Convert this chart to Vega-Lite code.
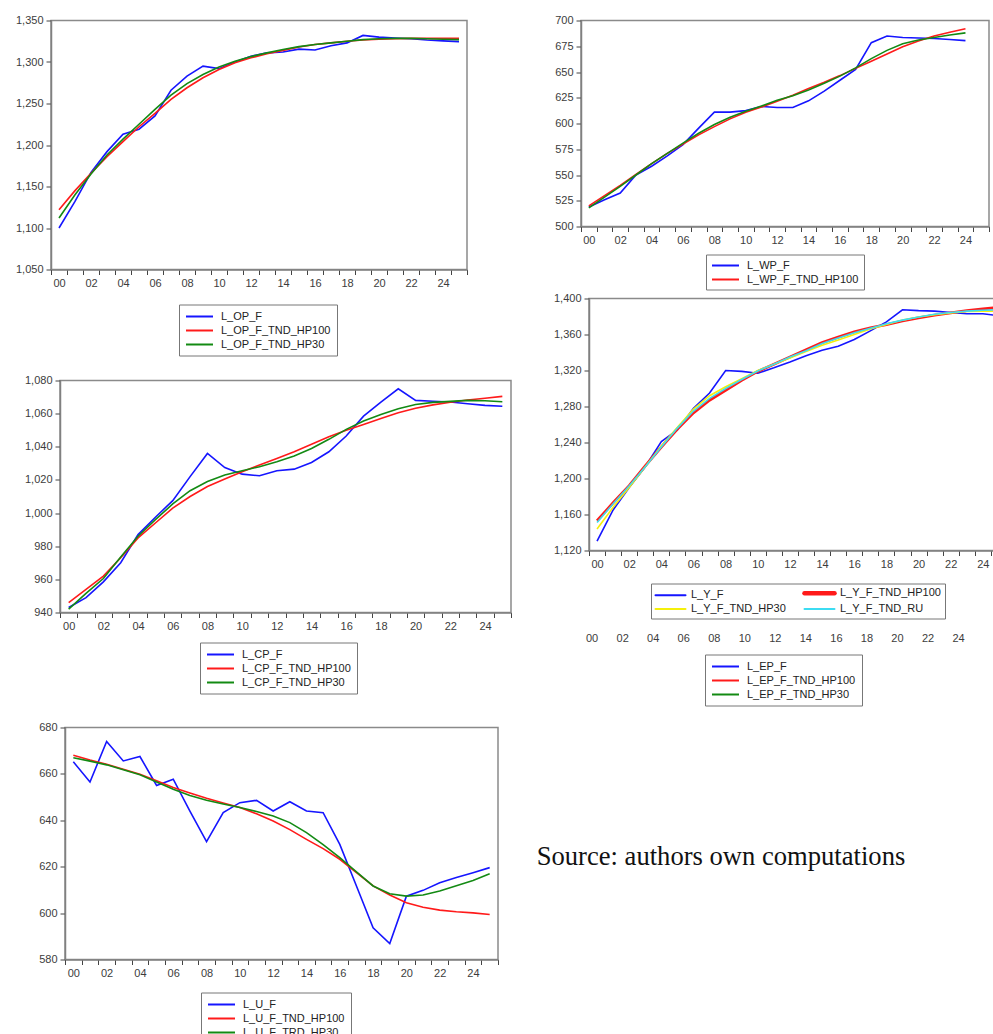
{
"$schema": "https://vega.github.io/schema/vega-lite/v6.json",
"padding": {"left": 10, "top": 13.5, "right": 0, "bottom": 0},
"background": "white",
"config": {
 "view": {"stroke": null},
 "font": "Liberation Sans",
 "axis": {"labelFont": "Liberation Sans", "labelFontSize": 11, "labelColor": "#3c3c3c", "tickColor": "#444444", "tickSize": 5, "domainColor": "#808080", "domainWidth": 1.5, "grid": false, "labelFlush": false, "labelOverlap": false, "labelBound": false, "labelPadding": 3, "maxExtent": 400},
 "legend": {"orient": "none", "symbolType": "M-1,0H4.4", "symbolSize": 100, "symbolStrokeWidth": 2, "labelOffset": 24, "padding": 6, "rowPadding": 3, "strokeColor": "#777777", "fillColor": "white", "labelFont": "Liberation Sans", "labelFontSize": 11, "labelColor": "#222222"}
},
"datasets": {
 "op": [
  {"series":"L_OP_F","year":0,"value":1100},{"series":"L_OP_F","year":1,"value":1132},{"series":"L_OP_F","year":2,"value":1167},{"series":"L_OP_F","year":3,"value":1192},{"series":"L_OP_F","year":4,"value":1213},{"series":"L_OP_F","year":5,"value":1219},{"series":"L_OP_F","year":6,"value":1235},{"series":"L_OP_F","year":7,"value":1266},{"series":"L_OP_F","year":8,"value":1283},{"series":"L_OP_F","year":9,"value":1295},{"series":"L_OP_F","year":10,"value":1292},{"series":"L_OP_F","year":11,"value":1300},{"series":"L_OP_F","year":12,"value":1307},{"series":"L_OP_F","year":13,"value":1311},{"series":"L_OP_F","year":14,"value":1312},{"series":"L_OP_F","year":15,"value":1315.5},{"series":"L_OP_F","year":16,"value":1314.5},{"series":"L_OP_F","year":17,"value":1319.5},{"series":"L_OP_F","year":18,"value":1323},{"series":"L_OP_F","year":19,"value":1332},{"series":"L_OP_F","year":20,"value":1330},{"series":"L_OP_F","year":21,"value":1329},{"series":"L_OP_F","year":22,"value":1328},{"series":"L_OP_F","year":23,"value":1326.5},{"series":"L_OP_F","year":24,"value":1325.5},{"series":"L_OP_F","year":25,"value":1324.5},
  {"series":"L_OP_F_TND_HP100","year":0,"value":1122},{"series":"L_OP_F_TND_HP100","year":1,"value":1145},{"series":"L_OP_F_TND_HP100","year":2,"value":1166},{"series":"L_OP_F_TND_HP100","year":3,"value":1186},{"series":"L_OP_F_TND_HP100","year":4,"value":1204},{"series":"L_OP_F_TND_HP100","year":5,"value":1222},{"series":"L_OP_F_TND_HP100","year":6,"value":1238},{"series":"L_OP_F_TND_HP100","year":7,"value":1255},{"series":"L_OP_F_TND_HP100","year":8,"value":1269},{"series":"L_OP_F_TND_HP100","year":9,"value":1281},{"series":"L_OP_F_TND_HP100","year":10,"value":1291},{"series":"L_OP_F_TND_HP100","year":11,"value":1299},{"series":"L_OP_F_TND_HP100","year":12,"value":1305},{"series":"L_OP_F_TND_HP100","year":13,"value":1310},{"series":"L_OP_F_TND_HP100","year":14,"value":1314},{"series":"L_OP_F_TND_HP100","year":15,"value":1318},{"series":"L_OP_F_TND_HP100","year":16,"value":1321},{"series":"L_OP_F_TND_HP100","year":17,"value":1323},{"series":"L_OP_F_TND_HP100","year":18,"value":1325},{"series":"L_OP_F_TND_HP100","year":19,"value":1326.5},{"series":"L_OP_F_TND_HP100","year":20,"value":1327.5},{"series":"L_OP_F_TND_HP100","year":21,"value":1328},{"series":"L_OP_F_TND_HP100","year":22,"value":1328.5},{"series":"L_OP_F_TND_HP100","year":23,"value":1328.5},{"series":"L_OP_F_TND_HP100","year":24,"value":1328.5},{"series":"L_OP_F_TND_HP100","year":25,"value":1328.5},
  {"series":"L_OP_F_TND_HP30","year":0,"value":1112},{"series":"L_OP_F_TND_HP30","year":1,"value":1140},{"series":"L_OP_F_TND_HP30","year":2,"value":1165},{"series":"L_OP_F_TND_HP30","year":3,"value":1188},{"series":"L_OP_F_TND_HP30","year":4,"value":1207},{"series":"L_OP_F_TND_HP30","year":5,"value":1225},{"series":"L_OP_F_TND_HP30","year":6,"value":1243},{"series":"L_OP_F_TND_HP30","year":7,"value":1260},{"series":"L_OP_F_TND_HP30","year":8,"value":1274},{"series":"L_OP_F_TND_HP30","year":9,"value":1285},{"series":"L_OP_F_TND_HP30","year":10,"value":1294},{"series":"L_OP_F_TND_HP30","year":11,"value":1301},{"series":"L_OP_F_TND_HP30","year":12,"value":1306.5},{"series":"L_OP_F_TND_HP30","year":13,"value":1311},{"series":"L_OP_F_TND_HP30","year":14,"value":1315},{"series":"L_OP_F_TND_HP30","year":15,"value":1318.5},{"series":"L_OP_F_TND_HP30","year":16,"value":1321},{"series":"L_OP_F_TND_HP30","year":17,"value":1323},{"series":"L_OP_F_TND_HP30","year":18,"value":1325},{"series":"L_OP_F_TND_HP30","year":19,"value":1327},{"series":"L_OP_F_TND_HP30","year":20,"value":1328},{"series":"L_OP_F_TND_HP30","year":21,"value":1328.5},{"series":"L_OP_F_TND_HP30","year":22,"value":1328.5},{"series":"L_OP_F_TND_HP30","year":23,"value":1328},{"series":"L_OP_F_TND_HP30","year":24,"value":1327.5},{"series":"L_OP_F_TND_HP30","year":25,"value":1327}
 ],
 "wp": [
  {"series":"L_WP_F","year":0,"value":519},{"series":"L_WP_F","year":1,"value":526},{"series":"L_WP_F","year":2,"value":532.5},{"series":"L_WP_F","year":3,"value":550},{"series":"L_WP_F","year":4,"value":558.5},{"series":"L_WP_F","year":5,"value":568.5},{"series":"L_WP_F","year":6,"value":579.5},{"series":"L_WP_F","year":7,"value":595.5},{"series":"L_WP_F","year":8,"value":611},{"series":"L_WP_F","year":9,"value":611},{"series":"L_WP_F","year":10,"value":612.5},{"series":"L_WP_F","year":11,"value":616.5},{"series":"L_WP_F","year":12,"value":615.5},{"series":"L_WP_F","year":13,"value":615.5},{"series":"L_WP_F","year":14,"value":622},{"series":"L_WP_F","year":15,"value":631.5},{"series":"L_WP_F","year":16,"value":642},{"series":"L_WP_F","year":17,"value":652.5},{"series":"L_WP_F","year":18,"value":678.5},{"series":"L_WP_F","year":19,"value":685},{"series":"L_WP_F","year":20,"value":683.5},{"series":"L_WP_F","year":21,"value":683},{"series":"L_WP_F","year":22,"value":682.5},{"series":"L_WP_F","year":23,"value":681.5},{"series":"L_WP_F","year":24,"value":680.5},
  {"series":"L_WP_F_TND_HP100","year":0,"value":520},{"series":"L_WP_F_TND_HP100","year":1,"value":530},{"series":"L_WP_F_TND_HP100","year":2,"value":540},{"series":"L_WP_F_TND_HP100","year":3,"value":550.5},{"series":"L_WP_F_TND_HP100","year":4,"value":561},{"series":"L_WP_F_TND_HP100","year":5,"value":571},{"series":"L_WP_F_TND_HP100","year":6,"value":580},{"series":"L_WP_F_TND_HP100","year":7,"value":589},{"series":"L_WP_F_TND_HP100","year":8,"value":597},{"series":"L_WP_F_TND_HP100","year":9,"value":604.5},{"series":"L_WP_F_TND_HP100","year":10,"value":611},{"series":"L_WP_F_TND_HP100","year":11,"value":616},{"series":"L_WP_F_TND_HP100","year":12,"value":621.5},{"series":"L_WP_F_TND_HP100","year":13,"value":627.5},{"series":"L_WP_F_TND_HP100","year":14,"value":634},{"series":"L_WP_F_TND_HP100","year":15,"value":640},{"series":"L_WP_F_TND_HP100","year":16,"value":646.5},{"series":"L_WP_F_TND_HP100","year":17,"value":653.5},{"series":"L_WP_F_TND_HP100","year":18,"value":660.5},{"series":"L_WP_F_TND_HP100","year":19,"value":667.5},{"series":"L_WP_F_TND_HP100","year":20,"value":674.5},{"series":"L_WP_F_TND_HP100","year":21,"value":680},{"series":"L_WP_F_TND_HP100","year":22,"value":685},{"series":"L_WP_F_TND_HP100","year":23,"value":688.5},{"series":"L_WP_F_TND_HP100","year":24,"value":692},
  {"series":"L_WP_F_TND_HP30","year":0,"value":518},{"series":"L_WP_F_TND_HP30","year":1,"value":528.5},{"series":"L_WP_F_TND_HP30","year":2,"value":539},{"series":"L_WP_F_TND_HP30","year":3,"value":550},{"series":"L_WP_F_TND_HP30","year":4,"value":561},{"series":"L_WP_F_TND_HP30","year":5,"value":571},{"series":"L_WP_F_TND_HP30","year":6,"value":581},{"series":"L_WP_F_TND_HP30","year":7,"value":590.5},{"series":"L_WP_F_TND_HP30","year":8,"value":599},{"series":"L_WP_F_TND_HP30","year":9,"value":606},{"series":"L_WP_F_TND_HP30","year":10,"value":612},{"series":"L_WP_F_TND_HP30","year":11,"value":617},{"series":"L_WP_F_TND_HP30","year":12,"value":622.5},{"series":"L_WP_F_TND_HP30","year":13,"value":627},{"series":"L_WP_F_TND_HP30","year":14,"value":632.5},{"series":"L_WP_F_TND_HP30","year":15,"value":639},{"series":"L_WP_F_TND_HP30","year":16,"value":646},{"series":"L_WP_F_TND_HP30","year":17,"value":654},{"series":"L_WP_F_TND_HP30","year":18,"value":663},{"series":"L_WP_F_TND_HP30","year":19,"value":671},{"series":"L_WP_F_TND_HP30","year":20,"value":677.5},{"series":"L_WP_F_TND_HP30","year":21,"value":681},{"series":"L_WP_F_TND_HP30","year":22,"value":683.5},{"series":"L_WP_F_TND_HP30","year":23,"value":686},{"series":"L_WP_F_TND_HP30","year":24,"value":688}
 ],
 "y": [
  {"series":"L_Y_F","year":0,"value":1130.5},{"series":"L_Y_F","year":1,"value":1165},{"series":"L_Y_F","year":2,"value":1190},{"series":"L_Y_F","year":3,"value":1213},{"series":"L_Y_F","year":4,"value":1241},{"series":"L_Y_F","year":5,"value":1254},{"series":"L_Y_F","year":6,"value":1278},{"series":"L_Y_F","year":7,"value":1295},{"series":"L_Y_F","year":8,"value":1320},{"series":"L_Y_F","year":9,"value":1319},{"series":"L_Y_F","year":10,"value":1317},{"series":"L_Y_F","year":11,"value":1323},{"series":"L_Y_F","year":12,"value":1329.5},{"series":"L_Y_F","year":13,"value":1336.5},{"series":"L_Y_F","year":14,"value":1342.5},{"series":"L_Y_F","year":15,"value":1347},{"series":"L_Y_F","year":16,"value":1354.5},{"series":"L_Y_F","year":17,"value":1364},{"series":"L_Y_F","year":18,"value":1374},{"series":"L_Y_F","year":19,"value":1387.5},{"series":"L_Y_F","year":20,"value":1386.5},{"series":"L_Y_F","year":21,"value":1386},{"series":"L_Y_F","year":22,"value":1384.5},{"series":"L_Y_F","year":23,"value":1383},{"series":"L_Y_F","year":24,"value":1383},{"series":"L_Y_F","year":25,"value":1381},
  {"series":"L_Y_F_TND_HP100","year":0,"value":1153},{"series":"L_Y_F_TND_HP100","year":1,"value":1173},{"series":"L_Y_F_TND_HP100","year":2,"value":1192},{"series":"L_Y_F_TND_HP100","year":3,"value":1214},{"series":"L_Y_F_TND_HP100","year":4,"value":1235},{"series":"L_Y_F_TND_HP100","year":5,"value":1255},{"series":"L_Y_F_TND_HP100","year":6,"value":1273},{"series":"L_Y_F_TND_HP100","year":7,"value":1287},{"series":"L_Y_F_TND_HP100","year":8,"value":1298},{"series":"L_Y_F_TND_HP100","year":9,"value":1309},{"series":"L_Y_F_TND_HP100","year":10,"value":1319},{"series":"L_Y_F_TND_HP100","year":11,"value":1327},{"series":"L_Y_F_TND_HP100","year":12,"value":1335},{"series":"L_Y_F_TND_HP100","year":13,"value":1343},{"series":"L_Y_F_TND_HP100","year":14,"value":1351},{"series":"L_Y_F_TND_HP100","year":15,"value":1357},{"series":"L_Y_F_TND_HP100","year":16,"value":1363},{"series":"L_Y_F_TND_HP100","year":17,"value":1367.5},{"series":"L_Y_F_TND_HP100","year":18,"value":1371},{"series":"L_Y_F_TND_HP100","year":19,"value":1375},{"series":"L_Y_F_TND_HP100","year":20,"value":1378.5},{"series":"L_Y_F_TND_HP100","year":21,"value":1381.5},{"series":"L_Y_F_TND_HP100","year":22,"value":1384},{"series":"L_Y_F_TND_HP100","year":23,"value":1386.5},{"series":"L_Y_F_TND_HP100","year":24,"value":1388.5},{"series":"L_Y_F_TND_HP100","year":25,"value":1390},
  {"series":"L_Y_F_TND_HP30","year":0,"value":1144},{"series":"L_Y_F_TND_HP30","year":1,"value":1168},{"series":"L_Y_F_TND_HP30","year":2,"value":1190},{"series":"L_Y_F_TND_HP30","year":3,"value":1213},{"series":"L_Y_F_TND_HP30","year":4,"value":1236},{"series":"L_Y_F_TND_HP30","year":5,"value":1257},{"series":"L_Y_F_TND_HP30","year":6,"value":1277},{"series":"L_Y_F_TND_HP30","year":7,"value":1292},{"series":"L_Y_F_TND_HP30","year":8,"value":1302},{"series":"L_Y_F_TND_HP30","year":9,"value":1311},{"series":"L_Y_F_TND_HP30","year":10,"value":1320},{"series":"L_Y_F_TND_HP30","year":11,"value":1327},{"series":"L_Y_F_TND_HP30","year":12,"value":1334},{"series":"L_Y_F_TND_HP30","year":13,"value":1341},{"series":"L_Y_F_TND_HP30","year":14,"value":1348},{"series":"L_Y_F_TND_HP30","year":15,"value":1354},{"series":"L_Y_F_TND_HP30","year":16,"value":1360},{"series":"L_Y_F_TND_HP30","year":17,"value":1366},{"series":"L_Y_F_TND_HP30","year":18,"value":1371},{"series":"L_Y_F_TND_HP30","year":19,"value":1376},{"series":"L_Y_F_TND_HP30","year":20,"value":1379.5},{"series":"L_Y_F_TND_HP30","year":21,"value":1382},{"series":"L_Y_F_TND_HP30","year":22,"value":1384},{"series":"L_Y_F_TND_HP30","year":23,"value":1385.5},{"series":"L_Y_F_TND_HP30","year":24,"value":1386},{"series":"L_Y_F_TND_HP30","year":25,"value":1386},
  {"series":"L_Y_F_TND_RU","year":0,"value":1151},{"series":"L_Y_F_TND_RU","year":1,"value":1172},{"series":"L_Y_F_TND_RU","year":2,"value":1192},{"series":"L_Y_F_TND_RU","year":3,"value":1213},{"series":"L_Y_F_TND_RU","year":4,"value":1235},{"series":"L_Y_F_TND_RU","year":5,"value":1256},{"series":"L_Y_F_TND_RU","year":6,"value":1275},{"series":"L_Y_F_TND_RU","year":7,"value":1289},{"series":"L_Y_F_TND_RU","year":8,"value":1300},{"series":"L_Y_F_TND_RU","year":9,"value":1310},{"series":"L_Y_F_TND_RU","year":10,"value":1319.5},{"series":"L_Y_F_TND_RU","year":11,"value":1327},{"series":"L_Y_F_TND_RU","year":12,"value":1335},{"series":"L_Y_F_TND_RU","year":13,"value":1342},{"series":"L_Y_F_TND_RU","year":14,"value":1350},{"series":"L_Y_F_TND_RU","year":15,"value":1356},{"series":"L_Y_F_TND_RU","year":16,"value":1362},{"series":"L_Y_F_TND_RU","year":17,"value":1367},{"series":"L_Y_F_TND_RU","year":18,"value":1372},{"series":"L_Y_F_TND_RU","year":19,"value":1376},{"series":"L_Y_F_TND_RU","year":20,"value":1379.5},{"series":"L_Y_F_TND_RU","year":21,"value":1382.5},{"series":"L_Y_F_TND_RU","year":22,"value":1384.5},{"series":"L_Y_F_TND_RU","year":23,"value":1386},{"series":"L_Y_F_TND_RU","year":24,"value":1387},{"series":"L_Y_F_TND_RU","year":25,"value":1387.5}
 ],
 "cp": [
  {"series":"L_CP_F","year":0,"value":943},{"series":"L_CP_F","year":1,"value":949},{"series":"L_CP_F","year":2,"value":958.5},{"series":"L_CP_F","year":3,"value":970},{"series":"L_CP_F","year":4,"value":987},{"series":"L_CP_F","year":5,"value":997.5},{"series":"L_CP_F","year":6,"value":1007.5},{"series":"L_CP_F","year":7,"value":1022},{"series":"L_CP_F","year":8,"value":1036},{"series":"L_CP_F","year":9,"value":1027.5},{"series":"L_CP_F","year":10,"value":1023.5},{"series":"L_CP_F","year":11,"value":1022.5},{"series":"L_CP_F","year":12,"value":1025.5},{"series":"L_CP_F","year":13,"value":1026.5},{"series":"L_CP_F","year":14,"value":1030.5},{"series":"L_CP_F","year":15,"value":1037},{"series":"L_CP_F","year":16,"value":1046.5},{"series":"L_CP_F","year":17,"value":1058.5},{"series":"L_CP_F","year":18,"value":1067},{"series":"L_CP_F","year":19,"value":1075},{"series":"L_CP_F","year":20,"value":1068},{"series":"L_CP_F","year":21,"value":1067.5},{"series":"L_CP_F","year":22,"value":1067},{"series":"L_CP_F","year":23,"value":1066},{"series":"L_CP_F","year":24,"value":1065},{"series":"L_CP_F","year":25,"value":1064.5},
  {"series":"L_CP_F_TND_HP100","year":0,"value":946},{"series":"L_CP_F_TND_HP100","year":1,"value":954},{"series":"L_CP_F_TND_HP100","year":2,"value":962},{"series":"L_CP_F_TND_HP100","year":3,"value":973},{"series":"L_CP_F_TND_HP100","year":4,"value":985},{"series":"L_CP_F_TND_HP100","year":5,"value":994},{"series":"L_CP_F_TND_HP100","year":6,"value":1003},{"series":"L_CP_F_TND_HP100","year":7,"value":1010},{"series":"L_CP_F_TND_HP100","year":8,"value":1016},{"series":"L_CP_F_TND_HP100","year":9,"value":1020.5},{"series":"L_CP_F_TND_HP100","year":10,"value":1025},{"series":"L_CP_F_TND_HP100","year":11,"value":1029},{"series":"L_CP_F_TND_HP100","year":12,"value":1033},{"series":"L_CP_F_TND_HP100","year":13,"value":1037},{"series":"L_CP_F_TND_HP100","year":14,"value":1041.5},{"series":"L_CP_F_TND_HP100","year":15,"value":1046},{"series":"L_CP_F_TND_HP100","year":16,"value":1050},{"series":"L_CP_F_TND_HP100","year":17,"value":1053.5},{"series":"L_CP_F_TND_HP100","year":18,"value":1057},{"series":"L_CP_F_TND_HP100","year":19,"value":1060.5},{"series":"L_CP_F_TND_HP100","year":20,"value":1063.3},{"series":"L_CP_F_TND_HP100","year":21,"value":1065.3},{"series":"L_CP_F_TND_HP100","year":22,"value":1066.9},{"series":"L_CP_F_TND_HP100","year":23,"value":1068.2},{"series":"L_CP_F_TND_HP100","year":24,"value":1069.3},{"series":"L_CP_F_TND_HP100","year":25,"value":1070.4},
  {"series":"L_CP_F_TND_HP30","year":0,"value":942},{"series":"L_CP_F_TND_HP30","year":1,"value":951.5},{"series":"L_CP_F_TND_HP30","year":2,"value":960.5},{"series":"L_CP_F_TND_HP30","year":3,"value":973.5},{"series":"L_CP_F_TND_HP30","year":4,"value":986},{"series":"L_CP_F_TND_HP30","year":5,"value":996},{"series":"L_CP_F_TND_HP30","year":6,"value":1005.5},{"series":"L_CP_F_TND_HP30","year":7,"value":1013.5},{"series":"L_CP_F_TND_HP30","year":8,"value":1019},{"series":"L_CP_F_TND_HP30","year":9,"value":1023},{"series":"L_CP_F_TND_HP30","year":10,"value":1025.5},{"series":"L_CP_F_TND_HP30","year":11,"value":1028},{"series":"L_CP_F_TND_HP30","year":12,"value":1031},{"series":"L_CP_F_TND_HP30","year":13,"value":1034.5},{"series":"L_CP_F_TND_HP30","year":14,"value":1039},{"series":"L_CP_F_TND_HP30","year":15,"value":1044.5},{"series":"L_CP_F_TND_HP30","year":16,"value":1050.5},{"series":"L_CP_F_TND_HP30","year":17,"value":1055.5},{"series":"L_CP_F_TND_HP30","year":18,"value":1059.5},{"series":"L_CP_F_TND_HP30","year":19,"value":1063},{"series":"L_CP_F_TND_HP30","year":20,"value":1065.5},{"series":"L_CP_F_TND_HP30","year":21,"value":1066.8},{"series":"L_CP_F_TND_HP30","year":22,"value":1067.4},{"series":"L_CP_F_TND_HP30","year":23,"value":1068},{"series":"L_CP_F_TND_HP30","year":24,"value":1067.8},{"series":"L_CP_F_TND_HP30","year":25,"value":1067.2}
 ],
 "u": [
  {"series":"L_U_F","year":0,"value":665.2},{"series":"L_U_F","year":1,"value":656.5},{"series":"L_U_F","year":2,"value":674},{"series":"L_U_F","year":3,"value":665.6},{"series":"L_U_F","year":4,"value":667.5},{"series":"L_U_F","year":5,"value":655},{"series":"L_U_F","year":6,"value":657.7},{"series":"L_U_F","year":7,"value":644},{"series":"L_U_F","year":8,"value":630.8},{"series":"L_U_F","year":9,"value":643.3},{"series":"L_U_F","year":10,"value":647.6},{"series":"L_U_F","year":11,"value":648.6},{"series":"L_U_F","year":12,"value":644},{"series":"L_U_F","year":13,"value":648},{"series":"L_U_F","year":14,"value":644},{"series":"L_U_F","year":15,"value":643.3},{"series":"L_U_F","year":16,"value":629.6},{"series":"L_U_F","year":17,"value":611.7},{"series":"L_U_F","year":18,"value":593.7},{"series":"L_U_F","year":19,"value":586.9},{"series":"L_U_F","year":20,"value":607.3},{"series":"L_U_F","year":21,"value":609.8},{"series":"L_U_F","year":22,"value":613.1},{"series":"L_U_F","year":23,"value":615.3},{"series":"L_U_F","year":24,"value":617.4},{"series":"L_U_F","year":25,"value":619.6},
  {"series":"L_U_F_TND_HP100","year":0,"value":668},{"series":"L_U_F_TND_HP100","year":1,"value":666},{"series":"L_U_F_TND_HP100","year":2,"value":664.2},{"series":"L_U_F_TND_HP100","year":3,"value":662},{"series":"L_U_F_TND_HP100","year":4,"value":659.9},{"series":"L_U_F_TND_HP100","year":5,"value":657},{"series":"L_U_F_TND_HP100","year":6,"value":654.1},{"series":"L_U_F_TND_HP100","year":7,"value":651.8},{"series":"L_U_F_TND_HP100","year":8,"value":649.5},{"series":"L_U_F_TND_HP100","year":9,"value":647.5},{"series":"L_U_F_TND_HP100","year":10,"value":645.5},{"series":"L_U_F_TND_HP100","year":11,"value":642.8},{"series":"L_U_F_TND_HP100","year":12,"value":639.7},{"series":"L_U_F_TND_HP100","year":13,"value":636},{"series":"L_U_F_TND_HP100","year":14,"value":631.8},{"series":"L_U_F_TND_HP100","year":15,"value":627.8},{"series":"L_U_F_TND_HP100","year":16,"value":623.2},{"series":"L_U_F_TND_HP100","year":17,"value":617.5},{"series":"L_U_F_TND_HP100","year":18,"value":611.7},{"series":"L_U_F_TND_HP100","year":19,"value":607.8},{"series":"L_U_F_TND_HP100","year":20,"value":604.5},{"series":"L_U_F_TND_HP100","year":21,"value":602.5},{"series":"L_U_F_TND_HP100","year":22,"value":601.3},{"series":"L_U_F_TND_HP100","year":23,"value":600.6},{"series":"L_U_F_TND_HP100","year":24,"value":600.1},{"series":"L_U_F_TND_HP100","year":25,"value":599.4},
  {"series":"L_U_F_TRD_HP30","year":0,"value":667},{"series":"L_U_F_TRD_HP30","year":1,"value":665.5},{"series":"L_U_F_TRD_HP30","year":2,"value":663.9},{"series":"L_U_F_TRD_HP30","year":3,"value":661.8},{"series":"L_U_F_TRD_HP30","year":4,"value":659.6},{"series":"L_U_F_TRD_HP30","year":5,"value":656.5},{"series":"L_U_F_TRD_HP30","year":6,"value":653.4},{"series":"L_U_F_TRD_HP30","year":7,"value":650.7},{"series":"L_U_F_TRD_HP30","year":8,"value":648.6},{"series":"L_U_F_TRD_HP30","year":9,"value":647},{"series":"L_U_F_TRD_HP30","year":10,"value":645.5},{"series":"L_U_F_TRD_HP30","year":11,"value":643.8},{"series":"L_U_F_TRD_HP30","year":12,"value":641.9},{"series":"L_U_F_TRD_HP30","year":13,"value":639},{"series":"L_U_F_TRD_HP30","year":14,"value":634.7},{"series":"L_U_F_TRD_HP30","year":15,"value":629.5},{"series":"L_U_F_TRD_HP30","year":16,"value":623.9},{"series":"L_U_F_TRD_HP30","year":17,"value":617.8},{"series":"L_U_F_TRD_HP30","year":18,"value":611.7},{"series":"L_U_F_TRD_HP30","year":19,"value":608.3},{"series":"L_U_F_TRD_HP30","year":20,"value":607.3},{"series":"L_U_F_TRD_HP30","year":21,"value":607.8},{"series":"L_U_F_TRD_HP30","year":22,"value":609.5},{"series":"L_U_F_TRD_HP30","year":23,"value":611.8},{"series":"L_U_F_TRD_HP30","year":24,"value":614.1},{"series":"L_U_F_TRD_HP30","year":25,"value":617}
 ],
 "ep": [
  {"series":"L_EP_F","year":0,"value":null},{"series":"L_EP_F_TND_HP100","year":0,"value":null},{"series":"L_EP_F_TND_HP30","year":0,"value":null}
 ],
 "src": [{"label": "Source: authors own computations"}]
},
"spacing": 15,
"resolve": {"scale": {"color": "independent"}, "legend": {"color": "independent"}},
"hconcat": [
 {
  "spacing": 0,
  "resolve": {"scale": {"color": "independent"}, "legend": {"color": "independent"}},
  "vconcat": [
   {"spacing": 0, "resolve": {"scale": {"color": "independent"}, "legend": {"color": "independent"}}, "hconcat": [
   {"width": 3, "height": 1, "data": {"values": []}, "mark": "point"},
   {
    "width": 416, "height": 249,
    "view": {"stroke": "#8a8a8a", "strokeWidth": 1.5},
    "data": {"name": "op"},
    "mark": {"type": "line", "strokeWidth": 1.6},
    "encoding": {
     "x": {"field": "year", "type": "quantitative", "scale": {"domain": [-0.5, 25.5], "nice": false, "zero": false},
           "axis": {"title": null, "minExtent": 102.5, "values": [-0.5,0.5,1.5,2.5,3.5,4.5,5.5,6.5,7.5,8.5,9.5,10.5,11.5,12.5,13.5,14.5,15.5,16.5,17.5,18.5,19.5,20.5,21.5,22.5,23.5,24.5,25.5], "labelOffset": 8,
                    "labelExpr": "((datum.value + 0.5) % 2 === 0 && datum.value < 25) ? ((datum.value + 0.5) < 10 ? '0' + (datum.value + 0.5) : '' + (datum.value + 0.5)) : ''"}},
     "y": {"field": "value", "type": "quantitative", "scale": {"domain": [1050, 1350], "nice": false, "zero": false},
           "axis": {"title": null, "minExtent": 37, "values": [1050,1100,1150,1200,1250,1300,1350], "format": ",d"}},
     "color": {"field": "series", "type": "nominal",
               "scale": {"domain": ["L_OP_F","L_OP_F_TND_HP100","L_OP_F_TND_HP30"], "range": ["#1515ff","#ff1a1a","#138a13"]},
               "legend": {"title": null, "orient": "none", "legendX": 128, "legendY": 284}}
    }
   }]},
   {"spacing": 0, "resolve": {"scale": {"color": "independent"}, "legend": {"color": "independent"}}, "hconcat": [
   {"width": 12, "height": 1, "data": {"values": []}, "mark": "point"},
   {
    "width": 451, "height": 232,
    "view": {"stroke": "#8a8a8a", "strokeWidth": 1.5},
    "data": {"name": "cp"},
    "mark": {"type": "line", "strokeWidth": 1.6},
    "encoding": {
     "x": {"field": "year", "type": "quantitative", "scale": {"domain": [-0.5, 25.5], "nice": false, "zero": false},
           "axis": {"title": null, "minExtent": 106.5, "values": [-0.5,0.5,1.5,2.5,3.5,4.5,5.5,6.5,7.5,8.5,9.5,10.5,11.5,12.5,13.5,14.5,15.5,16.5,17.5,18.5,19.5,20.5,21.5,22.5,23.5,24.5,25.5], "labelOffset": 8.7,
                    "labelExpr": "((datum.value + 0.5) % 2 === 0 && datum.value < 25) ? ((datum.value + 0.5) < 10 ? '0' + (datum.value + 0.5) : '' + (datum.value + 0.5)) : ''"}},
     "y": {"field": "value", "type": "quantitative", "scale": {"domain": [940, 1080], "nice": false, "zero": false},
           "axis": {"title": null, "minExtent": 37, "values": [940,960,980,1000,1020,1040,1060,1080], "format": ",d"}},
     "color": {"field": "series", "type": "nominal",
               "scale": {"domain": ["L_CP_F","L_CP_F_TND_HP100","L_CP_F_TND_HP30"], "range": ["#1515ff","#ff1a1a","#138a13"]},
               "legend": {"title": null, "orient": "none", "legendX": 140, "legendY": 262}}
    }
   }]},
   {"spacing": 0, "resolve": {"scale": {"color": "independent"}, "legend": {"color": "independent"}}, "hconcat": [
   {"width": 17, "height": 1, "data": {"values": []}, "mark": "point"},
   {
    "width": 433, "height": 232,
    "view": {"stroke": "#8a8a8a", "strokeWidth": 1.5},
    "data": {"name": "u"},
    "mark": {"type": "line", "strokeWidth": 1.6},
    "encoding": {
     "x": {"field": "year", "type": "quantitative", "scale": {"domain": [-0.5, 25.5], "nice": false, "zero": false},
           "axis": {"title": null, "values": [-0.5,0.5,1.5,2.5,3.5,4.5,5.5,6.5,7.5,8.5,9.5,10.5,11.5,12.5,13.5,14.5,15.5,16.5,17.5,18.5,19.5,20.5,21.5,22.5,23.5,24.5,25.5], "labelOffset": 8.3,
                    "labelExpr": "((datum.value + 0.5) % 2 === 0 && datum.value < 25) ? ((datum.value + 0.5) < 10 ? '0' + (datum.value + 0.5) : '' + (datum.value + 0.5)) : ''"}},
     "y": {"field": "value", "type": "quantitative", "scale": {"domain": [580, 680], "nice": false, "zero": false},
           "axis": {"title": null, "minExtent": 37, "values": [580,600,620,640,660,680], "format": "d"}},
     "color": {"field": "series", "type": "nominal",
               "scale": {"domain": ["L_U_F","L_U_F_TND_HP100","L_U_F_TRD_HP30"], "range": ["#1515ff","#ff1a1a","#138a13"]},
               "legend": {"title": null, "orient": "none", "legendX": 136, "legendY": 265}}
    }
   }]}
  ]
 },
 {
  "spacing": 0,
  "resolve": {"scale": {"color": "independent"}, "legend": {"color": "independent"}},
  "vconcat": [
   {"spacing": 0, "resolve": {"scale": {"color": "independent"}, "legend": {"color": "independent"}}, "hconcat": [
   {"width": 3, "height": 1, "data": {"values": []}, "mark": "point"},
   {
    "width": 408, "height": 206,
    "view": {"stroke": "#8a8a8a", "strokeWidth": 1.5},
    "data": {"name": "wp"},
    "mark": {"type": "line", "strokeWidth": 1.6},
    "encoding": {
     "x": {"field": "year", "type": "quantitative", "scale": {"domain": [-0.5, 25.5], "nice": false, "zero": false},
           "axis": {"title": null, "minExtent": 59.5, "values": [-0.5,0.5,1.5,2.5,3.5,4.5,5.5,6.5,7.5,8.5,9.5,10.5,11.5,12.5,13.5,14.5,15.5,16.5,17.5,18.5,19.5,20.5,21.5,22.5,23.5,24.5,25.5], "labelOffset": 7.8,
                    "labelExpr": "((datum.value + 0.5) % 2 === 0 && datum.value < 25) ? ((datum.value + 0.5) < 10 ? '0' + (datum.value + 0.5) : '' + (datum.value + 0.5)) : ''"}},
     "y": {"field": "value", "type": "quantitative", "scale": {"domain": [500, 700], "nice": false, "zero": false},
           "axis": {"title": null, "minExtent": 40, "values": [500,525,550,575,600,625,650,675,700], "format": "d"}},
     "color": {"field": "series", "type": "nominal",
               "scale": {"domain": ["L_WP_F","L_WP_F_TND_HP100","L_WP_F_TND_HP30"], "range": ["#1515ff","#ff1a1a","#138a13"]},
               "legend": {"title": null, "orient": "none", "legendX": 125, "legendY": 234, "padding": 5, "values": ["L_WP_F","L_WP_F_TND_HP100"]}}
    }
   }]},
   {"spacing": 0, "resolve": {"scale": {"color": "independent"}, "legend": {"color": "independent"}}, "hconcat": [
   {"width": 11, "height": 1, "data": {"values": []}, "mark": "point"},
   {
    "width": 418, "height": 252,
    "view": {"stroke": "#8a8a8a", "strokeWidth": 1.5},
    "data": {"name": "y"},
    "mark": {"type": "line"},
    "encoding": {
     "x": {"field": "year", "type": "quantitative", "scale": {"domain": [-0.5, 25.5], "nice": false, "zero": false},
           "axis": {"title": null, "minExtent": 67, "values": [-0.5,0.5,1.5,2.5,3.5,4.5,5.5,6.5,7.5,8.5,9.5,10.5,11.5,12.5,13.5,14.5,15.5,16.5,17.5,18.5,19.5,20.5,21.5,22.5,23.5,24.5,25.5], "labelOffset": 8,
                    "labelExpr": "((datum.value + 0.5) % 2 === 0 && datum.value < 25) ? ((datum.value + 0.5) < 10 ? '0' + (datum.value + 0.5) : '' + (datum.value + 0.5)) : ''"}},
     "y": {"field": "value", "type": "quantitative", "scale": {"domain": [1120, 1400], "nice": false, "zero": false},
           "axis": {"title": null, "minExtent": 40, "values": [1120,1160,1200,1240,1280,1320,1360,1400], "format": ",d"}},
     "strokeWidth": {"condition": {"test": "datum.series === 'L_Y_F_TND_HP100'", "value": 2.8}, "value": 1.6},
     "color": {"field": "series", "type": "nominal",
               "scale": {"domain": ["L_Y_F","L_Y_F_TND_HP30","L_Y_F_TND_HP100","L_Y_F_TND_RU"], "range": ["#1515ff","#f5f00a","#ff1a1a","#3cdcf2"]},
               "legend": {"title": null, "orient": "none", "legendX": 62, "legendY": 285, "columns": 2, "columnPadding": 9, "padding": 4, "rowPadding": 0,
                          "symbolType": "M-1,0H5", "labelOffset": 25,
                          "encode": {"symbols": {"update": {"strokeWidth": {"signal": "datum.value === 'L_Y_F_TND_HP100' ? 4.5 : 2"}, "strokeCap": {"value": "round"}}}}}}
    }
   }]},
   {"spacing": 0, "resolve": {"scale": {"color": "independent"}, "legend": {"color": "independent"}}, "hconcat": [
   {"width": 6.4, "height": 1, "data": {"values": []}, "mark": "point"},
   {
    "width": 397, "height": 10,
    "data": {"name": "ep"},
    "mark": {"type": "line", "strokeWidth": 1.6},
    "encoding": {
     "x": {"field": "year", "type": "quantitative", "scale": {"domain": [-0.5, 25.5], "nice": false, "zero": false},
           "axis": {"title": null, "minExtent": 213, "domain": false, "ticks": false, "labelPadding": 2, "values": [-0.5,0.5,1.5,2.5,3.5,4.5,5.5,6.5,7.5,8.5,9.5,10.5,11.5,12.5,13.5,14.5,15.5,16.5,17.5,18.5,19.5,20.5,21.5,22.5,23.5,24.5,25.5], "labelOffset": 7.6,
                    "labelExpr": "((datum.value + 0.5) % 2 === 0 && datum.value < 25) ? ((datum.value + 0.5) < 10 ? '0' + (datum.value + 0.5) : '' + (datum.value + 0.5)) : ''"}},
     "y": {"field": "value", "type": "quantitative", "scale": {"domain": [0, 1]},
           "axis": {"title": null, "labels": false, "ticks": false, "domain": false, "minExtent": 40}},
     "color": {"field": "series", "type": "nominal",
               "scale": {"domain": ["L_EP_F","L_EP_F_TND_HP100","L_EP_F_TND_HP30"], "range": ["#1515ff","#ff1a1a","#138a13"]},
               "legend": {"title": null, "orient": "none", "legendX": 121, "legendY": 34}}
    }
   }]},
   {
    "width": 368, "height": 2,
    "data": {"name": "src"},
    "mark": {"type": "text", "font": "Liberation Serif", "fontSize": 26.6, "align": "center", "baseline": "middle", "color": "#111111"},
    "encoding": {"text": {"field": "label", "type": "nominal"}}
   }
  ]
 }
]
}
